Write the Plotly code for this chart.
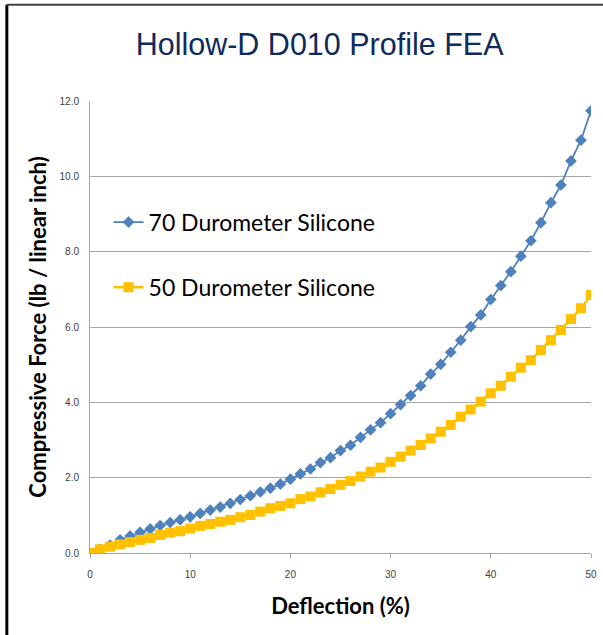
import plotly.graph_objects as go

deflection = list(range(0, 51))
force_70 = [0.00, 0.10, 0.21, 0.35, 0.45, 0.55, 0.64, 0.73, 0.81, 0.88,
            0.96, 1.05, 1.14, 1.22, 1.32, 1.42, 1.52, 1.62, 1.72, 1.83,
            1.96, 2.10, 2.23, 2.40, 2.53, 2.72, 2.86, 3.07, 3.27, 3.46,
            3.70, 3.94, 4.18, 4.44, 4.75, 5.01, 5.33, 5.65, 6.01, 6.32,
            6.73, 7.10, 7.47, 7.88, 8.29, 8.77, 9.30, 9.77, 10.41, 10.96,
            11.74]
force_50 = [0.00, 0.10, 0.17, 0.23, 0.29, 0.35, 0.40, 0.48, 0.54, 0.58,
            0.65, 0.72, 0.77, 0.83, 0.88, 0.95, 1.01, 1.10, 1.19, 1.25,
            1.32, 1.43, 1.50, 1.61, 1.70, 1.81, 1.91, 2.03, 2.16, 2.27,
            2.42, 2.56, 2.72, 2.87, 3.04, 3.22, 3.40, 3.62, 3.81, 4.02,
            4.24, 4.44, 4.68, 4.92, 5.12, 5.39, 5.65, 5.92, 6.21, 6.50,
            6.85]
x_ticks = [0, 10, 20, 30, 40, 50]
y_ticks = [0, 2, 4, 6, 8, 10, 12]

BLUE = "#4F81BD"
ORANGE = "#FFC000"

fig = go.Figure()
fig.add_trace(go.Scatter(
    x=deflection, y=force_70, mode="lines+markers", name="70 Durometer Silicone",
    line=dict(color=BLUE, width=1.8),
    marker=dict(symbol="diamond", size=9, color=BLUE),
    showlegend=True, legend="legend"))
fig.add_trace(go.Scatter(
    x=deflection, y=force_50, mode="lines+markers", name="50 Durometer Silicone",
    line=dict(color=ORANGE, width=2.5),
    marker=dict(symbol="square", size=10, color=ORANGE),
    showlegend=True, legend="legend2"))

legend_common = dict(
    font=dict(family="Lato, Open Sans, sans-serif", size=23, color="#000000"),
    bgcolor="#FFFFFF", xanchor="left", yanchor="middle",
    itemwidth=30, borderwidth=0, visible=True)

fig.update_layout(
    width=603, height=635,
    showlegend=True,
    margin=dict(l=90, r=12, t=101, b=82, autoexpand=False),
    paper_bgcolor="#FFFFFF", plot_bgcolor="#FFFFFF",
    title=dict(text="Hollow-D D010 Profile FEA", x=0.53, xanchor="center",
               y=0.93, yanchor="middle",
               font=dict(family="Liberation Sans, Arial, sans-serif", size=30.5,
                         color="#0F2A5C")),
    legend=dict(x=0.037, y=0.732, **legend_common),
    legend2=dict(x=0.037, y=0.588, **legend_common),
    xaxis=dict(range=[0, 50], tickvals=x_ticks, ticktext=[str(v) for v in x_ticks],
               showgrid=False, zeroline=False, showline=True, linecolor="#A6A6A6",
               linewidth=1, ticks="outside", ticklen=4, tickcolor="#A6A6A6",
               ticklabelstandoff=8, automargin=False,
               tickfont=dict(family="Liberation Sans, Arial, sans-serif", size=10,
                             color="#404040"),
               title=dict(text="<b>Deflection (%)</b>", standoff=19,
                          font=dict(family="Lato, Open Sans, sans-serif", size=22,
                                    color="#000000"))),
    yaxis=dict(range=[0, 12], tickvals=y_ticks, ticktext=[f"{v:.1f}" for v in y_ticks],
               showgrid=True, gridcolor="#A6A6A6", gridwidth=1, zeroline=False,
               showline=True, linecolor="#A6A6A6", linewidth=1,
               ticks="", ticklabelstandoff=8, automargin=False,
               tickfont=dict(family="Liberation Sans, Arial, sans-serif", size=10,
                             color="#404040"),
               title=dict(text="<b>Compressive Force (lb / linear inch)</b>", standoff=6,
                          font=dict(family="Lato, Open Sans, sans-serif", size=22,
                                    color="#000000"))),
    shapes=[
        dict(type="line", xref="paper", yref="paper", x0=-0.166, x1=-0.166,
             y0=1.213, y1=-0.19, line=dict(color="#000000", width=3)),
        dict(type="line", xref="paper", yref="paper", x0=-0.166, x1=1.03,
             y0=1.213, y1=1.213, line=dict(color="#404040", width=2)),
    ],
)

fig.write_html("out.html", config={"displayModeBar": False},
               post_script="document.body.style.margin='0px';")
